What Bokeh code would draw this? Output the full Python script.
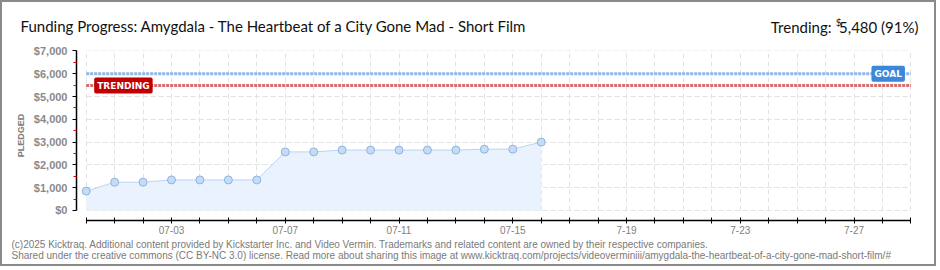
import math
import pandas as pd
from bokeh.plotting import figure
from bokeh.models import Range1d, FixedTicker, Label, ColumnDataSource
from bokeh.embed import file_html
from bokeh.resources import INLINE

# ---------------- data ----------------
title_text = "Funding Progress: Amygdala - The Heartbeat of a City Gone Mad - Short Film"
dates = ["2025-06-30", "2025-07-01", "2025-07-02", "2025-07-03", "2025-07-04",
         "2025-07-05", "2025-07-06", "2025-07-07", "2025-07-08", "2025-07-09",
         "2025-07-10", "2025-07-11", "2025-07-12", "2025-07-13", "2025-07-14",
         "2025-07-15", "2025-07-16"]
pledged = [850, 1240, 1240, 1340, 1340, 1340, 1340, 2570, 2570, 2650,
           2650, 2650, 2650, 2650, 2690, 2690, 3000]
campaign_start = "2025-06-30"
campaign_end = "2025-07-29"
goal = 6000
trending = 5480
label_dates = ["2025-07-03", "2025-07-07", "2025-07-11", "2025-07-15",
               "2025-07-19", "2025-07-23", "2025-07-27"]
label_texts = ["07-03", "07-07", "07-11", "07-15", "7-19", "7-23", "7-27"]
y_ticks = [0, 1000, 2000, 3000, 4000, 5000, 6000, 7000]
footer_1 = ("(c)2025 Kicktraq. Additional content provided by Kickstarter Inc. and Video Vermin. "
            "Trademarks and related content are owned by their respective companies.")
footer_2 = ("Shared under the creative commons (CC BY-NC 3.0) license. Read more about sharing this "
            "image at www.kicktraq.com/projects/videoverminiii/amygdala-the-heartbeat-of-a-city-gone-mad-short-film/#")

# ---------------- derived ----------------
t0 = pd.Timestamp(campaign_start)
days = [(pd.Timestamp(d) - t0).days for d in dates]
last_day = (pd.Timestamp(campaign_end) - t0).days
all_days = list(range(0, last_day + 1))
overrides = {d: "" for d in all_days}
for d, t in zip(label_dates, label_texts):
    overrides[(pd.Timestamp(d) - t0).days] = t

src = ColumnDataSource(dict(x=days, y=pledged))

TITLE_FONT = "Lato"
SMALL_FONT = "Liberation Sans, sans-serif"

# 2px border around a 936x266 canvas -> 940x270 page
p = figure(width=936, height=266, output_backend="svg", toolbar_location=None,
           x_range=Range1d(-0.34, last_day + 0.02), y_range=Range1d(-440, 7020),
           min_border_left=74, min_border_right=27, min_border_top=48, min_border_bottom=48,
           background_fill_color="white", border_fill_color="white")
p.outline_line_color = None
p.styles = {"border": "2px solid #8a8a8a"}

# grids
p.xgrid.ticker = FixedTicker(ticks=all_days)
p.ygrid.ticker = FixedTicker(ticks=y_ticks)
for g in (p.xgrid, p.ygrid):
    g.grid_line_color = "#e2e2e2"
    g.grid_line_dash = "5 3"
    g.grid_line_width = 1
p.xgrid.bounds = (0, last_day)
p.ygrid.bounds = (0, 7000)
p.xgrid.cross_bounds = (0, 7000)
p.ygrid.cross_bounds = (0, last_day)

# x axis
xa = p.xaxis[0]
xa.ticker = FixedTicker(ticks=all_days)
xa.major_label_overrides = overrides
xa.bounds = (0, last_day)
xa.axis_line_color = "black"
xa.axis_line_width = 1.5
xa.major_tick_line_color = "black"
xa.major_tick_line_width = 1
xa.major_tick_in = 3
xa.major_tick_out = 3
xa.minor_tick_line_color = None
xa.major_label_text_font = SMALL_FONT
xa.major_label_text_font_size = "10px"
xa.major_label_text_color = "#808080"
xa.major_label_standoff = 2

# y axis
ya = p.yaxis[0]
ya.ticker = FixedTicker(ticks=y_ticks, minor_ticks=[v + 500 for v in y_ticks[:-1]])
ya.major_label_overrides = {v: "${:,}".format(v) for v in y_ticks}
ya.bounds = (0, 7000)
ya.axis_line_color = "black"
ya.axis_line_width = 1.5
ya.major_tick_line_color = "black"
ya.major_tick_in = 0
ya.major_tick_out = 4
ya.minor_tick_line_color = "#dd0000"
ya.minor_tick_in = 0
ya.minor_tick_out = 3
ya.major_label_text_font = SMALL_FONT
ya.major_label_text_font_size = "11px"
ya.major_label_text_font_style = "bold"
ya.major_label_text_color = "#8a8a8a"
ya.major_label_standoff = 5
ya.axis_label = "PLEDGED"
ya.axis_label_text_font = SMALL_FONT
ya.axis_label_text_font_size = "9px"
ya.axis_label_text_font_style = "bold"
ya.axis_label_text_color = "#808080"
ya.axis_label_standoff = 5

# series
p.varea(x="x", y1=0, y2="y", source=src, fill_color="#eaf3fd")
p.line(x="x", y="y", source=src, line_color="#b8d5f3", line_width=1)
p.scatter(x="x", y="y", source=src, size=8, fill_color="#c4dcf6", line_color="#8fb3de", line_width=1)

# goal / trending lines
p.segment(x0=[all_days[0]], x1=[all_days[-1]], y0=[goal], y1=[goal],
          line_color="#92b9e6", line_width=3, line_dash="3 1")
p.segment(x0=[all_days[0]], x1=[all_days[-1]], y0=[trending], y1=[trending],
          line_color="#d66d6e", line_width=3, line_dash="3 1")

p.add_layout(Label(x=all_days[0], y=trending, x_offset=8, text="TRENDING",
                   text_font="DejaVu Sans", text_font_size="9px", text_font_style="bold",
                   text_color="white", text_baseline="middle", text_align="left",
                   background_fill_color="#c00000", border_radius=2, padding=3))
p.add_layout(Label(x=all_days[-1], y=goal, x_offset=-6, text="GOAL",
                   text_font="DejaVu Sans", text_font_size="9px", text_font_style="bold",
                   text_color="white", text_baseline="middle", text_align="right",
                   background_fill_color="#3b88d9", border_radius=2, padding=3))

# header / footer texts in side panels (not clipped to the frame)
pct = round(trending / goal * 100)
p.add_layout(Label(x=-56, y=25, x_units="screen", y_units="screen", text=title_text,
                   text_font=TITLE_FONT, text_font_size="15px", text_color="#111111",
                   text_baseline="alphabetic"), "above")
p.add_layout(Label(x=842, y=6, x_units="screen", y_units="screen",
                   text="Trending: \u2009\u2009{:,} ({}%)".format(trending, pct),
                   text_font=TITLE_FONT, text_font_size="15px", text_color="#111111",
                   text_align="right", text_baseline="alphabetic"), "above")
p.add_layout(Label(x=-70, y=199, x_units="screen", y_units="screen", text="$",
                   text_font=TITLE_FONT, text_font_size="10px", text_color="#111111",
                   text_align="right", text_baseline="alphabetic"), "right")
p.add_layout(Label(x=-65, y=3, x_units="screen", y_units="screen", text=footer_1,
                   text_font=SMALL_FONT, text_font_size="10px", text_color="#7a7a7a",
                   text_baseline="alphabetic"), "below")
p.add_layout(Label(x=-65, y=3.5, x_units="screen", y_units="screen", text=footer_2,
                   text_font=SMALL_FONT, text_font_size="10px", text_color="#7a7a7a",
                   text_baseline="alphabetic"), "below")

open("out.html", "w").write(file_html(p, INLINE))
